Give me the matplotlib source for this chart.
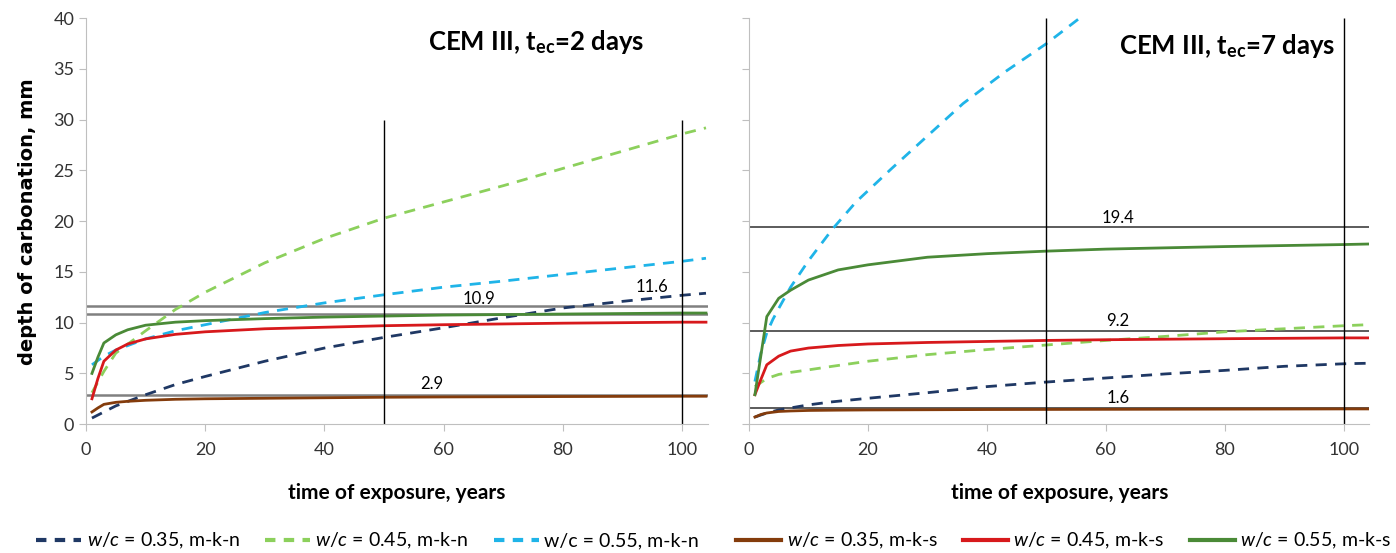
import numpy as np
import matplotlib
matplotlib.use("Agg")
import matplotlib.pyplot as plt

plt.rcParams['font.family'] = ['Lato', 'DejaVu Sans']
plt.rcParams['mathtext.fontset'] = 'custom'
plt.rcParams['mathtext.rm'] = 'Lato'
plt.rcParams['mathtext.it'] = 'Lato:italic'
plt.rcParams['mathtext.bf'] = 'Lato:bold'

# ---- data: years and carbonation depth (mm) ----
# left panel, t_ec = 2 days
t_n2 = [1, 3, 5, 10, 15, 20, 30, 40, 50, 60, 70, 80, 90, 100, 104]
kn035_2 = [0.6, 1.2, 1.8, 2.9, 3.9, 4.7, 6.2, 7.5, 8.55, 9.5, 10.5, 11.45, 12.1, 12.7, 12.9]
kn045_2 = [3.1, 5.2, 7.0, 9.2, 11.3, 13.0, 15.9, 18.3, 20.3, 21.9, 23.5, 25.2, 26.9, 28.6, 29.2]
kn055_2 = [5.85, 6.7, 7.3, 8.4, 9.2, 9.8, 11.0, 11.95, 12.75, 13.5, 14.1, 14.75, 15.4, 16.05, 16.35]

t_s = [1, 2, 3, 5, 7, 10, 15, 20, 30, 40, 50, 60, 80, 100, 104]
ks035_2 = [1.2, 1.6, 1.95, 2.15, 2.25, 2.35, 2.45, 2.5, 2.55, 2.6, 2.65, 2.68, 2.72, 2.75, 2.75]
ks045_2 = [2.5, 4.5, 6.2, 7.3, 7.9, 8.4, 8.85, 9.1, 9.4, 9.55, 9.7, 9.8, 9.95, 10.05, 10.05]
ks055_2 = [5.0, 6.6, 8.0, 8.8, 9.3, 9.75, 10.05, 10.2, 10.4, 10.55, 10.65, 10.75, 10.85, 10.95, 10.95]

# right panel, t_ec = 7 days
t_n7 = [1, 3, 5, 7, 10, 14, 20, 30, 40, 50, 60, 70, 80, 90, 100, 104]
kn035_7 = [0.7, 1.1, 1.4, 1.6, 1.9, 2.2, 2.55, 3.1, 3.7, 4.15, 4.55, 4.95, 5.3, 5.7, 5.95, 6.0]
kn045_7 = [3.7, 4.5, 4.9, 5.1, 5.35, 5.7, 6.2, 6.85, 7.35, 7.8, 8.25, 8.65, 9.1, 9.4, 9.7, 9.8]
t_c7 = [1, 2, 3, 4, 5, 7, 10, 14, 18, 24, 30, 36, 43, 50, 56, 60]
kn055_7 = [4.2, 7.0, 9.0, 10.3, 11.4, 13.5, 16.1, 19.2, 21.9, 25.2, 28.4, 31.6, 34.7, 37.5, 40.2, 41.8]

ks035_7 = [0.7, 0.95, 1.1, 1.25, 1.3, 1.35, 1.38, 1.4, 1.42, 1.44, 1.45, 1.46, 1.48, 1.5, 1.5]
ks045_7 = [2.9, 4.4, 5.85, 6.7, 7.2, 7.5, 7.75, 7.9, 8.05, 8.15, 8.25, 8.32, 8.42, 8.5, 8.5]
ks055_7 = [2.9, 6.75, 10.6, 12.4, 13.2, 14.2, 15.2, 15.7, 16.45, 16.8, 17.05, 17.25, 17.5, 17.7, 17.75]

limits_2 = [11.6, 10.9, 2.9]
limit_labels_2 = ["11.6", "10.9", "2.9"]
limits_7 = [19.4, 9.2, 1.6]
limit_labels_7 = ["19.4", "9.2", "1.6"]

labels = [r"$w/c$ = 0.35, m-k-n", r"$w/c$ = 0.45, m-k-n", "w/c = 0.55, m-k-n",
          r"$w/c$ = 0.35, m-k-s", r"$w/c$ = 0.45, m-k-s", r"$w/c$ = 0.55, m-k-s"]
colors = ["#1f3864", "#8cd05c", "#1fb4e8", "#843c0c", "#d7191c", "#4a8a37"]

fig = plt.figure(figsize=(13.96, 5.53), dpi=100)
ax1 = fig.add_axes([0.0616, 0.233, 0.4454, 0.734])
ax2 = fig.add_axes([0.5365, 0.233, 0.4445, 0.734])


def style(ax, show_labels):
    ax.set_xlim(0, 104.3)
    ax.set_ylim(0, 40)
    ax.set_xticks(range(0, 101, 20))
    ax.set_yticks(range(0, 41, 5))
    for s in ["top", "right"]:
        ax.spines[s].set_visible(False)
    for s in ["left", "bottom"]:
        ax.spines[s].set_color("#bfbfbf")
    ax.tick_params(colors="#bfbfbf", labelcolor="#333333", labelsize=13, length=5)
    ax.tick_params(axis="x", pad=8)
    if not show_labels:
        ax.set_yticklabels([])
    ax.set_xlabel("time of exposure, years", fontsize=15, fontweight="bold", labelpad=18)


style(ax1, True)
style(ax2, False)
ax1.set_ylabel("depth of carbonation, mm", family="DejaVu Sans", fontsize=14,
               fontweight="bold", labelpad=12)

dash = (0, (4, 3))

# left panel
handles = []
for y, c in zip([kn035_2, kn045_2, kn055_2], colors[:3]):
    h, = ax1.plot(t_n2, y, color=c, lw=2, ls=dash)
    handles.append(h)
for y, c in zip([ks035_2, ks045_2, ks055_2], colors[3:]):
    h, = ax1.plot(t_s, y, color=c, lw=2)
    handles.append(h)
for v in limits_2:
    ax1.axhline(v, color="#808080", lw=1.8, zorder=1)
ax1.vlines([50, 100], 0, 30, color="black", lw=1)
ax1.text(66, 12.3, limit_labels_2[1], fontsize=12, ha="center", va="center")
ax1.text(95, 13.5, limit_labels_2[0], fontsize=12, ha="center", va="center")
ax1.text(58, 4.0, limit_labels_2[2], fontsize=12, ha="center", va="center")
ax1.text(75.5, 37.7, r"CEM III, t$_{\mathbf{ec}}$=2 days", fontsize=18.5,
         fontweight="bold", ha="center", va="center")

# right panel
ax2.plot(t_n7, kn035_7, color=colors[0], lw=2, ls=dash)
ax2.plot(t_n7, kn045_7, color=colors[1], lw=2, ls=dash)
ax2.plot(t_c7, kn055_7, color=colors[2], lw=2, ls=dash)
for y, c in zip([ks035_7, ks045_7, ks055_7], colors[3:]):
    ax2.plot(t_s, y, color=c, lw=2)
for v in limits_7:
    ax2.axhline(v, color="#404040", lw=1.2, zorder=1)
ax2.vlines([50, 100], 0, 40, color="black", lw=1)
for v, lab in zip(limits_7, limit_labels_7):
    ax2.text(62, v + 0.95, lab, fontsize=12, ha="center", va="center")
ax2.text(80.4, 37.3, r"CEM III, t$_{\mathbf{ec}}$=7 days", fontsize=18.5,
         fontweight="bold", ha="center", va="center")

# legend: two groups of three entries
leg_kw = dict(loc="center left", ncol=3, frameon=False, fontsize=14,
              handlelength=2.3, handletextpad=0.3, columnspacing=1.3,
              borderaxespad=0, borderpad=0)
leg1 = fig.legend(handles[:3], labels[:3], bbox_to_anchor=(36 / 1396, 1 - 541 / 553), **leg_kw)
for ln in leg1.get_lines():
    ln.set_linewidth(3)
    ln.set_dashes((2.5, 2))
leg2 = fig.legend(handles[3:], labels[3:], bbox_to_anchor=(736 / 1396, 1 - 541 / 553), **leg_kw)
for ln in leg2.get_lines():
    ln.set_linewidth(3)

fig.savefig("out.png", dpi=100)
